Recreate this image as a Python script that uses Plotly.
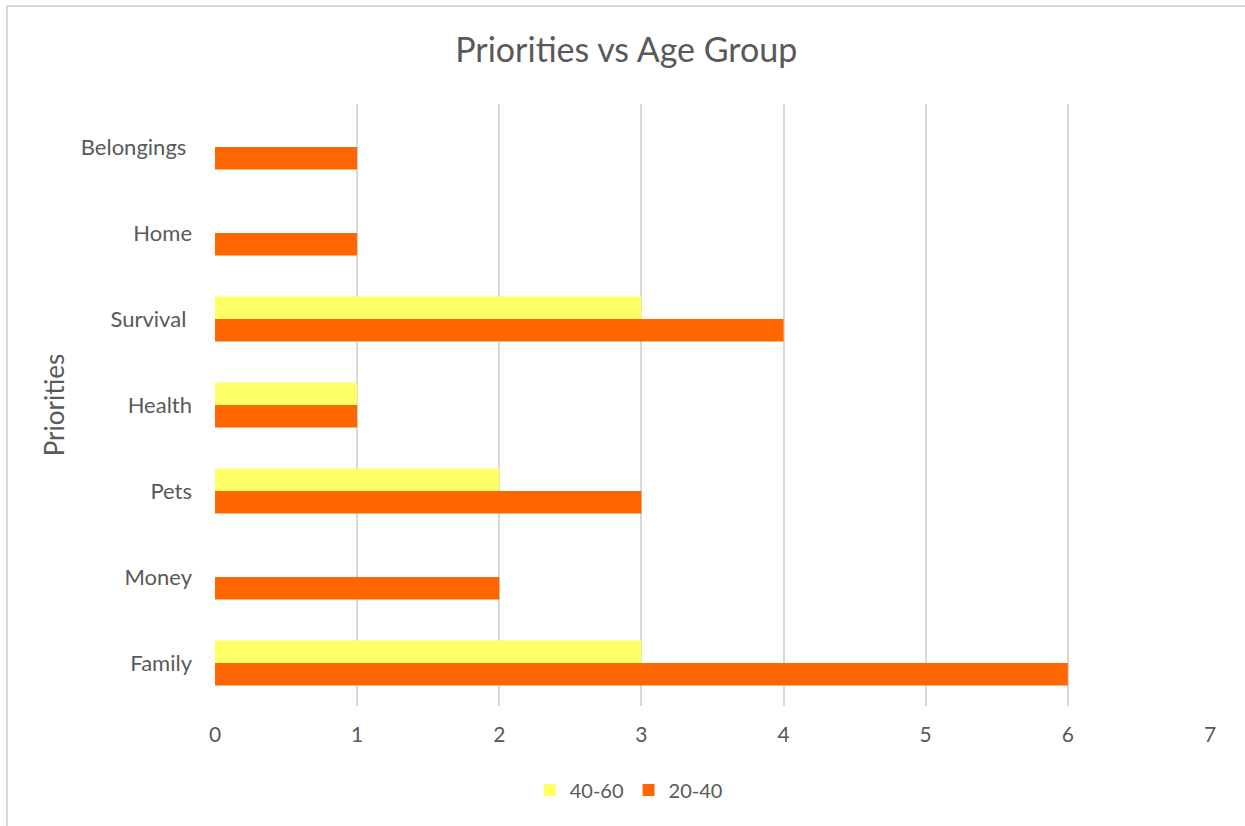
import plotly.graph_objects as go

# Priorities named by each age group (bottom to top on the chart)
categories = ["Family", "Money", "Pets", "Health", "Survival\u00a0", "Home", "Belongings\u00a0"]
age_20_40 = [6, 2, 3, 1, 4, 1, 1]
age_40_60 = [3, None, 2, 1, 3, None, None]
x_ticks = [0, 1, 2, 3, 4, 5, 6, 7]

FONT = "Lato, Calibri, sans-serif"
TEXT = "#595959"

fig = go.Figure()
fig.add_trace(go.Bar(
    y=categories, x=age_20_40, name="20-40", orientation="h",
    marker=dict(color="#FF6600", line=dict(width=0)),
))
fig.add_trace(go.Bar(
    y=categories, x=age_40_60, name="40-60", orientation="h",
    marker=dict(color="#FFFF66", line=dict(width=0)),
))

W, H = 1245, 826
ML, MR, MT, MB = 215, 35, 104, 120

fig.update_layout(
    width=W, height=H,
    margin=dict(l=ML, r=MR, t=MT, b=MB),
    paper_bgcolor="white", plot_bgcolor="white",
    barmode="group", bargap=0.475, bargroupgap=0,
    font=dict(family=FONT, color=TEXT, size=21),
    title=dict(text="Priorities vs Age Group", x=0.503, xref="container", xanchor="center",
               y=1 - 50 / H, yanchor="middle", yref="container",
               font=dict(size=34, color=TEXT, family=FONT)),
    xaxis=dict(range=[0, 7], tickvals=x_ticks, showgrid=True, gridcolor="#D9D9D9",
               gridwidth=1.5, zeroline=False, showline=False, ticks="",
               tickfont=dict(size=21, color=TEXT), ticklabelstandoff=14),
    yaxis=dict(categoryorder="array", categoryarray=categories, showgrid=False,
               zeroline=False, showline=False, ticks="",
               tickfont=dict(size=22, color=TEXT), ticklabelstandoff=22,
               title=dict(text="Priorities", font=dict(size=26, color=TEXT), standoff=8)),
    legend=dict(orientation="h", x=0.505, xanchor="center", xref="container",
                y=36 / H, yanchor="middle", yref="container", traceorder="reversed",
                font=dict(size=20, color=TEXT), itemwidth=30),
    showlegend=True,
)

# Thin chart-area border (right and bottom edges fall outside the canvas)
pw = W - ML - MR
ph = H - MT - MB
fig.add_shape(type="rect", xref="paper", yref="paper",
              x0=(7 - ML) / pw, x1=(W + 20 - ML) / pw,
              y0=-(MB + 20) / ph, y1=(H - 6 - MB) / ph,
              line=dict(color="#D9D9D9", width=2), fillcolor="rgba(0,0,0,0)", layer="below")

fig.write_html("out.html")
